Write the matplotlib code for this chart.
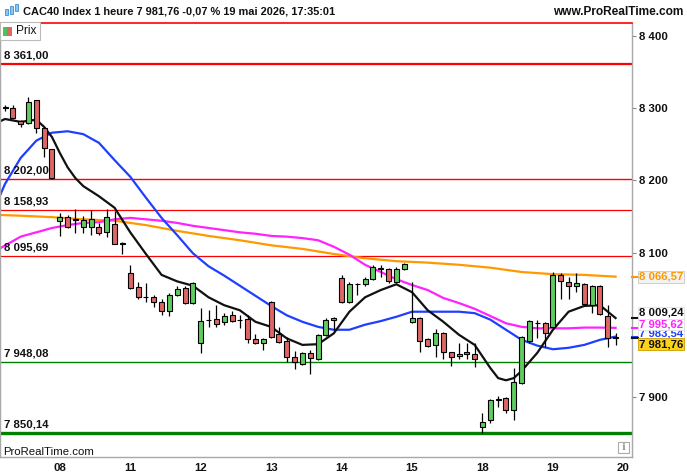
import matplotlib
matplotlib.use("Agg")
import matplotlib.pyplot as plt
from matplotlib import patches
from matplotlib.transforms import blended_transform_factory

plt.rcParams['font.family'] = ['Liberation Sans', 'DejaVu Sans']

# ===============================================================================
# data (hourly candles, 7 -> 19 mai)

opens = [8300, 8300, 8282, 8279, 8311, 8273, 8243,
         8144, 8149, 8145, 8135, 8135, 8135, 8128, 8139, 8112,
         8072, 8052, 8038, 8039, 8031, 8019, 8041, 8051, 8030,
         7975, 8006, 8008, 8004, 8013, 8006, 8008, 7980, 7975,
         8031, 7987, 7977, 7955, 7946, 7961, 7953, 7986, 8007,
         8065, 8031, 8056, 8056, 8063, 8077, 8077, 8059, 8077,
         8004, 8009, 7980, 7972, 7988, 7962, 7957, 7962, 7959,
         7858, 7868, 7896, 7898, 7882, 7919, 7977, 8002, 8002,
         7997, 8069, 8059, 8054, 8056, 8027, 8054, 8012, 7983]
highs = [8304, 8304, 8284, 8315, 8311, 8274, 8244,
         8155, 8152, 8160, 8151, 8159, 8141, 8160, 8157, 8115,
         8083, 8059, 8058, 8041, 8036, 8044, 8054, 8054, 8059,
         8023, 8020, 8027, 8016, 8019, 8013, 8013, 7987, 7982,
         8033, 7997, 7983, 7964, 7962, 7965, 7987, 8009, 8010,
         8069, 8059, 8058, 8066, 8083, 8083, 8079, 8080, 8085,
         8059, 8010, 7982, 7994, 7990, 7962, 7975, 7975, 7975,
         7878, 7897, 7901, 7900, 7940, 7984, 8006, 8006, 8004,
         8073, 8072, 8066, 8072, 8058, 8055, 8055, 8027, 7989]
lows = [8296, 8285, 8274, 8278, 8266, 8232, 8202,
        8123, 8134, 8127, 8127, 8124, 8124, 8121, 8112, 8098,
        8050, 8036, 8031, 8024, 8013, 8012, 8040, 8029, 8029,
        7961, 7997, 7997, 7999, 8004, 7995, 7975, 7973, 7965,
        7982, 7975, 7948, 7939, 7944, 7932, 7951, 7984, 7993,
        8030, 8030, 8041, 8054, 8062, 8066, 8058, 8058, 8076,
        8003, 7962, 7969, 7955, 7952, 7943, 7952, 7952, 7941,
        7850, 7864, 7886, 7878, 7868, 7918, 7975, 7981, 7969,
        7996, 8036, 8036, 8045, 8027, 8016, 8013, 7969, 7972]
closes = [8301, 8286, 8278, 8309, 8273, 8245, 8203,
          8149, 8135, 8146, 8145, 8146, 8127, 8149, 8112, 8113,
          8051, 8038, 8038, 8031, 8019, 8041, 8049, 8030, 8058,
          8005, 8007, 8001, 8012, 8005, 8006, 7980, 7975, 7980,
          7983, 7976, 7955, 7948, 7961, 7954, 7986, 8006, 8009,
          8031, 8056, 8057, 8063, 8080, 8078, 8061, 8077, 8084,
          8009, 7977, 7970, 7988, 7962, 7955, 7959, 7959, 7952,
          7865, 7896, 7897, 7882, 7921, 7983, 8005, 8003, 7988,
          8069, 8060, 8054, 8058, 8029, 8054, 8015, 7982, 7981.76]

day_labels = ['08', '11', '12', '13', '14', '15', '18', '19', '20']
day_idx = [7, 16, 25, 34, 43, 52, 61, 70, 79]

# moving averages (candle index, value)
ma_black_idx = [-0.6, 0, 2, 4, 5, 6, 7, 8, 9, 10,
                12, 14, 16, 18, 20, 22, 24, 26, 28, 30, 32, 34, 36, 38, 40,
                42, 44, 46, 48, 50, 52, 54, 56, 58, 60, 62,
                63, 64, 65, 66, 68, 70, 72, 74, 76, 78]
ma_black = [8282, 8285, 8281, 8284, 8274, 8260, 8238, 8218, 8203, 8192,
            8178, 8162, 8128, 8098, 8069, 8060, 8054, 8038, 8027, 8020, 8004, 7997, 7981, 7972, 7973,
            7988, 8018, 8038, 8048, 8056, 8045, 8020, 8004, 7986, 7972, 7940,
            7926, 7923, 7926, 7936, 7961, 7993, 8018, 8026, 8027, 8009.24]

ma_blue_idx = [-0.6, 0] + list(range(2, 79, 2))
ma_blue = [8180, 8195, 8231, 8255, 8266, 8268, 8264, 8252, 8228, 8205,
           8176, 8148, 8124, 8099, 8081, 8068, 8054, 8040, 8026, 8013,
           8004, 7997, 7993, 7993, 8000, 8005, 8011, 8018, 8018, 8018,
           8018, 8016, 8007, 7993, 7979, 7971, 7966, 7968, 7972, 7979, 7983.54]

ma_magenta_idx = [-0.6] + list(range(2, 79, 2))
ma_magenta = [8106, 8122, 8128, 8134, 8138, 8141, 8142, 8146, 8148, 8146,
              8144, 8141, 8137, 8134, 8131, 8128, 8126, 8123, 8122, 8120,
              8117, 8108, 8097, 8083, 8073, 8063, 8055, 8048, 8037, 8030,
              8022, 8012, 8002, 7997, 7995, 7995, 7995, 7996, 7996, 7995.62]

ma_orange_idx = [-0.6, 2, 6, 10, 14, 18, 22, 26, 30, 34, 38, 42, 46, 50, 54, 58, 62, 66, 70, 74, 78]
ma_orange = [8152, 8151, 8149, 8146, 8144, 8138, 8130, 8123, 8117, 8110, 8105,
             8098, 8092, 8088, 8086, 8083, 8079, 8073, 8070, 8069, 8066.57]

levels_red = [8361.00, 8202.00, 8158.93, 8095.69]
levels_green = [7948.08, 7850.14]
yticks = [7900, 8100, 8200, 8300, 8400]

# ===============================================================================

def fr(v, dec=2):
    s = f"{v:,.{dec}f}"
    return s.replace(',', ' ').replace('.', ',')

W, H = 687, 475
fig = plt.figure(figsize=(W / 100, H / 100), dpi=100)
fig.patch.set_facecolor('white')

px_l, px_r, px_t, px_b = 0, 632, 23, 457
ax = fig.add_axes([px_l / W, (H - px_b) / H, (px_r - px_l) / W, (px_b - px_t) / H])
ax.set_xlim(-0.64, 80.1)
ax.set_ylim(7816.7, 8418)

# level lines
red_lw = [1.6, 1.0, 0.9, 0.9]
for lv, lw in zip(levels_red, red_lw):
    ax.axhline(lv, color='#ff0000', lw=lw, zorder=1)
green_lw = [1.0, 2.4]
for lv, lw in zip(levels_green, green_lw):
    ax.axhline(lv, color='#008000', lw=lw, zorder=1)

trans_l = blended_transform_factory(ax.transAxes, ax.transData)
for lv in levels_red + levels_green:
    ax.annotate(fr(lv), xy=(0.006, lv), xycoords=trans_l, xytext=(0, 2.5),
                textcoords='offset points', ha='left', va='bottom',
                fontsize=8.2, fontweight='bold', color='#111111', zorder=6)

# moving averages
ax.plot(ma_orange_idx, ma_orange, color='#ff9900', lw=1.6, zorder=2)
ax.plot(ma_magenta_idx, ma_magenta, color='#ff22ff', lw=1.6, zorder=2)
ax.plot(ma_blue_idx, ma_blue, color='#1f3fff', lw=1.6, zorder=2)
ax.plot(ma_black_idx, ma_black, color='#111111', lw=1.6, zorder=2)

# candles
idx = list(range(len(opens)))
ax.vlines(idx, lows, highs, color='black', lw=0.9, zorder=3)
bottoms = [min(o, c) for o, c in zip(opens, closes)]
heights = [max(abs(c - o), 0.01) for o, c in zip(opens, closes)]
cols = ['#5fcc5f' if c >= o else '#e06666' for o, c in zip(opens, closes)]
ax.bar(idx, heights, bottom=bottoms, width=0.64, color=cols,
       edgecolor='black', linewidth=0.8, zorder=4)

# axes styling
for s in ['left', 'bottom', 'right']:
    ax.spines[s].set_color('#a8a8a8')
    ax.spines[s].set_linewidth(1.0)
ax.spines['top'].set_color('#ff0000')
ax.spines['top'].set_linewidth(1.2)

ax.yaxis.tick_right()
ax.set_yticks(yticks)
ax.set_yticklabels([fr(v, 0) for v in yticks])
ax.tick_params(axis='y', length=3, width=0.8, color='#888888', pad=2,
               labelsize=8.2, labelcolor='#111111')
for lb in ax.get_yticklabels():
    lb.set_fontweight('bold')

ax.set_xticks(day_idx)
ax.set_xticklabels(day_labels)
ax.tick_params(axis='x', length=0, pad=4, labelsize=8.2, labelcolor='#111111')
for lb in ax.get_xticklabels():
    lb.set_fontweight('bold')

# right-hand value tags (drawn bottom-up so they stack like the reference)
def tag(v, txt_col, fc, ec, dy, tick_col, z):
    ax.plot([1.0, 1.009], [v, v], transform=trans_l, clip_on=False,
            color=tick_col, lw=1.5, zorder=z)
    ax.annotate(fr(v), xy=(1.0, v), xycoords=trans_l, xytext=(5.0, dy),
                textcoords='offset points', ha='left', va='center',
                fontsize=8.2, fontweight='bold', color=txt_col,
                bbox=dict(boxstyle='square,pad=0.08', fc=fc, ec=ec, lw=0.6),
                annotation_clip=False, zorder=z)

tag(ma_orange[-1], '#ff9900', '#f2f2f2', '#c8c8c8', 0, '#ff9900', 8)
tag(ma_blue[-1], '#1f3fff', 'white', '#e0e0e0', 2.4, '#1f3fff', 8)
tag(ma_magenta[-1], '#ff22ff', 'white', '#e0e0e0', 2.6, '#ff22ff', 9)
tag(ma_black[-1], '#111111', 'white', '#e0e0e0', 3.8, '#111111', 10)
tag(closes[-1], '#111111', '#ffd21a', '#c8a000', -4.6, '#111111', 11)

# header
fig.text(23 / W, 1 - 12 / H, 'CAC40 Index 1 heure 7 981,76 -0,07 % 19 mai 2026, 17:35:01',
         ha='left', va='center', fontsize=7.9, fontweight='bold', color='#111111')
fig.text(683 / W, 1 - 12 / H, 'www.ProRealTime.com', ha='right', va='center',
         fontsize=8.6, fontweight='bold', color='#111111')

# small candle icon in header
for (x0, y0, w, h) in [(5, 9, 3, 6), (10, 6, 3, 8), (15, 4, 3, 7)]:
    fig.patches.append(patches.Rectangle((x0 / W, 1 - (y0 + h) / H), w / W, h / H,
                                         transform=fig.transFigure, fc='#8ec5f0',
                                         ec='#3d8fd6', lw=0.6))

# "Prix" legend box
fig.patches.append(patches.Rectangle((0, 1 - 40 / H), 40 / W, 18 / H, transform=fig.transFigure,
                                     fc='white', ec='#bbbbbb', lw=0.8, zorder=10))
fig.patches.append(patches.Rectangle((3 / W, 1 - 36 / H), 4 / W, 9 / H, transform=fig.transFigure,
                                     fc='#4fc24f', ec='none', zorder=11))
fig.patches.append(patches.Rectangle((7 / W, 1 - 36 / H), 5 / W, 9 / H, transform=fig.transFigure,
                                     fc='#e06666', ec='none', zorder=11))
fig.text(16 / W, 1 - 31 / H, 'Prix', ha='left', va='center', fontsize=8.6,
         color='#111111', zorder=12)

# footer inside chart
fig.text(3 / W, 1 - 452 / H, 'ProRealTime.com', ha='left', va='center', fontsize=8.2,
         color='#111111')
fig.patches.append(patches.Rectangle((618 / W, 1 - 453 / H), 11 / W, 11 / H, transform=fig.transFigure,
                                     fc='white', ec='#aaaaaa', lw=0.8, zorder=10))
fig.text(623.5 / W, 1 - 447.5 / H, 'i', ha='center', va='center', fontsize=7.5,
         family='DejaVu Serif', fontweight='bold', color='#999999', zorder=11)

plt.savefig('out.png', dpi=100)
